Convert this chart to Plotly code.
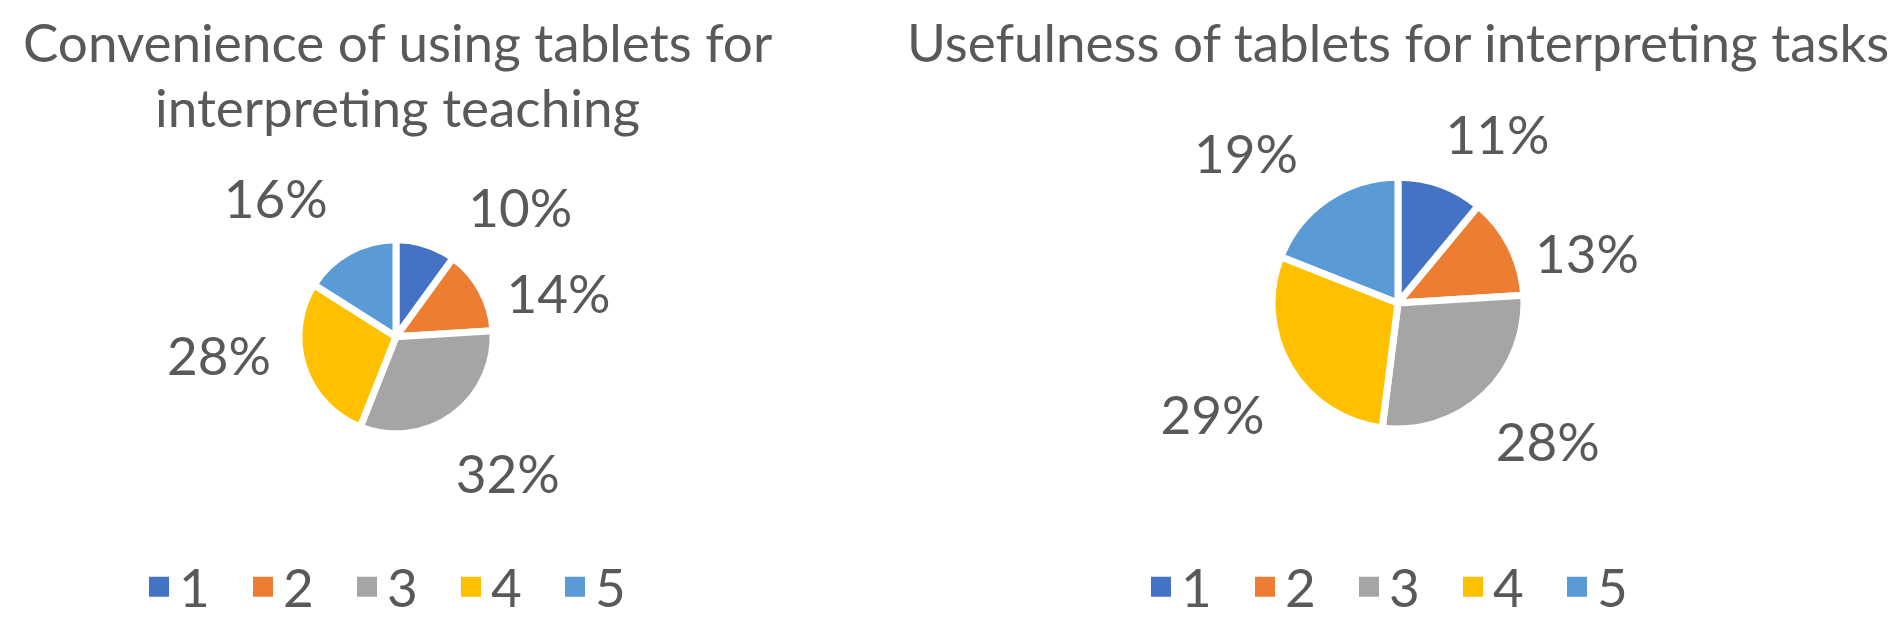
import plotly.graph_objects as go

categories = ["1", "2", "3", "4", "5"]
convenience = [10, 14, 32, 28, 16]
usefulness = [11, 13, 28, 29, 19]
colors = ["#4472C4", "#ED7D31", "#A5A5A5", "#FFC000", "#5B9BD5"]
title_left = ["Convenience of using tablets for", "interpreting teaching"]
title_right = "Usefulness of tablets for interpreting tasks"

W, H = 1902, 620
FONT = "Lato, 'Open Sans', sans-serif"
TXT = "#595959"
FS = 53


def px_dom(cx, cy, r):
    return dict(x=[(cx - r) / W, (cx + r) / W], y=[1 - (cy + r) / H, 1 - (cy - r) / H])


fig = go.Figure()

# per-label placement tweaks (angle offset in degrees, label ring radius in px)
charts = [
    dict(vals=convenience, cx=388, cy=342, r=101, lg="legend",
         lab_rot=[10, 6, 14, 9, 4], lab_r=[125, 107, 122, 115, 130]),
    dict(vals=usefulness, cx=1390, cy=307, r=131, lg="legend2",
         lab_rot=[-7, 6, 8, -9, 1], lab_r=[149, 135, 148, 159, 160]),
]
for c in charts:
    fig.add_trace(go.Pie(
        labels=categories, values=c["vals"], sort=False, direction="clockwise", rotation=0,
        marker=dict(colors=colors, line=dict(color="white", width=7)),
        textinfo="none", showlegend=False, domain=px_dom(c["cx"], c["cy"], c["r"]),
        hoverinfo="label+percent",
    ))
    for j in range(len(categories)):
        fig.add_trace(go.Pie(
            labels=categories, values=c["vals"], sort=False, direction="clockwise",
            rotation=c["lab_rot"][j],
            marker=dict(colors=["rgba(0,0,0,0)"] * len(categories), line=dict(width=0)),
            texttemplate=["%{percent}" if k == j else "" for k in range(len(categories))],
            textposition="outside",
            outsidetextfont=dict(family=FONT, size=FS, color=TXT),
            showlegend=False, domain=px_dom(c["cx"], c["cy"], c["lab_r"][j]), hoverinfo="skip",
        ))
    for cat, col in zip(categories, colors):
        fig.add_trace(go.Scatter(
            x=[None], y=[None], mode="markers", name=cat, legend=c["lg"],
            marker=dict(symbol="square", size=16, color=col, line=dict(color=col, width=4)),
            showlegend=True, hoverinfo="skip",
        ))

annotations = []
for i, line in enumerate(title_left):
    annotations.append(dict(text=line, x=389 / W, y=1 - (35 + 67 * i) / H, xref="paper", yref="paper",
                            xanchor="center", yanchor="middle", showarrow=False,
                            font=dict(family=FONT, size=FS, color=TXT)))
annotations.append(dict(text=title_right, x=1390 / W, y=1 - 35 / H, xref="paper", yref="paper",
                        xanchor="center", yanchor="middle", showarrow=False,
                        font=dict(family=FONT, size=FS, color=TXT)))

leg_common = dict(orientation="h", yanchor="middle", y=1 - 602 / H, xanchor="left",
                  font=dict(family=FONT, size=FS, color=TXT), bgcolor="rgba(0,0,0,0)",
                  entrywidth=59, entrywidthmode="pixels", itemclick=False, itemdoubleclick=False)

fig.update_layout(
    width=W, height=H, margin=dict(l=0, r=0, t=0, b=0),
    paper_bgcolor="white", plot_bgcolor="white",
    xaxis=dict(visible=False), yaxis=dict(visible=False),
    annotations=annotations,
    legend=dict(x=131 / W, **leg_common),
    legend2=dict(x=1133 / W, **leg_common),
    font=dict(family=FONT, color=TXT),
)

fig.write_html("out.html")
